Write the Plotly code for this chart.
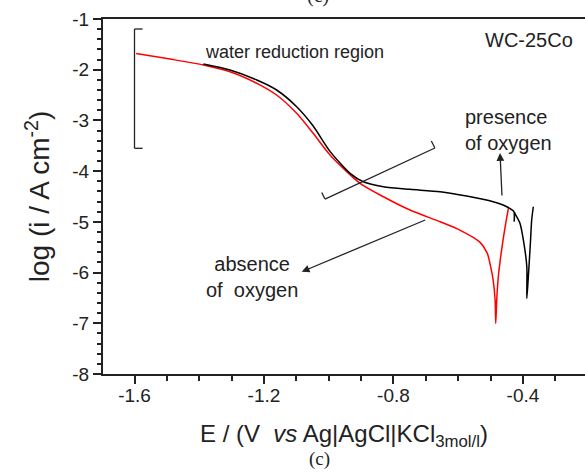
import plotly.graph_objects as go

# ---- data ----
E_absence = [-1.595, -1.490, -1.387, -1.305, -1.222, -1.161, -1.099, -1.048, -0.996,
             -0.903, -0.831, -0.749, -0.656, -0.595, -0.533, -0.510, -0.502, -0.492, -0.486,
             -0.484, -0.481, -0.476, -0.466, -0.455, -0.445]
logi_absence = [-1.68, -1.79, -1.907, -2.040, -2.268, -2.499, -2.860, -3.254, -3.680,
                -4.241, -4.505, -4.767, -4.998, -5.162, -5.40, -5.621, -5.819, -6.148, -6.542,
                -7.002, -6.542, -6.083, -5.556, -5.097, -4.734]

E_presence = [-1.387, -1.305, -1.222, -1.161, -1.099, -1.048, -0.996, -0.934, -0.893,
              -0.831, -0.749, -0.656, -0.574, -0.492, -0.450, -0.428, -0.427, -0.426, -0.425,
              -0.409, -0.397, -0.388, -0.388, -0.384, -0.377, -0.373, -0.368]
logi_presence = [-1.888, -2.006, -2.203, -2.400, -2.730, -3.110, -3.610, -4.043, -4.209,
                 -4.308, -4.359, -4.406, -4.491, -4.604, -4.702, -4.80, -4.99, -4.81, -4.832,
                 -5.030, -5.424, -5.886, -6.509, -6.15, -5.418, -4.964, -4.702]

x_ticks = [-1.6, -1.2, -0.8, -0.4]
x_tick_labels = ["-1.6", "-1.2", "-0.8", "-0.4"]
y_ticks = [-8, -7, -6, -5, -4, -3, -2, -1]
y_tick_labels = ["-8", "-7", "-6", "-5", "-4", "-3", "-2", "-1"]

FONT = "Liberation Sans, Arial, sans-serif"

fig = go.Figure()
fig.add_trace(go.Scatter(x=E_absence, y=logi_absence, mode="lines",
                         line=dict(color="#ff0000", width=1.5, shape="spline", smoothing=0.7),
                         name="absence of oxygen"))
fig.add_trace(go.Scatter(x=E_presence, y=logi_presence, mode="lines",
                         line=dict(color="#000000", width=1.5, shape="spline", smoothing=0.7),
                         name="presence of oxygen"))

# brackets
lw = dict(color="#222222", width=1.3)
shapes = [
    dict(type="line", x0=-1.6, y0=-1.197, x1=-1.6, y1=-3.55, line=lw),
    dict(type="line", x0=-1.6, y0=-1.197, x1=-1.575, y1=-1.197, line=lw),
    dict(type="line", x0=-1.6, y0=-3.55, x1=-1.575, y1=-3.55, line=lw),
    dict(type="line", x0=-1.0115, y0=-4.55, x1=-0.672, y1=-3.544, line=lw),
    dict(type="line", x0=-1.0115, y0=-4.55, x1=-1.0217, y1=-4.42, line=lw),
    dict(type="line", x0=-0.672, y0=-3.544, x1=-0.683, y1=-3.406, line=lw),
]

annotations = [
    dict(x=-1.388, y=-1.645, xref="x", yref="y", text="water reduction region",
         showarrow=False, xanchor="left", yanchor="middle",
         font=dict(family=FONT, size=18, color="#222")),
    dict(x=-0.239, y=-1.414, xref="x", yref="y", text="WC-25Co",
         showarrow=False, xanchor="right", yanchor="middle",
         font=dict(family=FONT, size=20, color="#222")),
    dict(x=-0.585, y=-3.18, xref="x", yref="y", text="presence<br>of oxygen",
         showarrow=False, xanchor="left", yanchor="middle", align="left",
         font=dict(family=FONT, size=20, color="#222")),
    dict(x=-1.237, y=-6.08, xref="x", yref="y", text="absence<br>of  oxygen",
         showarrow=False, xanchor="center", yanchor="middle", align="center",
         font=dict(family=FONT, size=20, color="#222")),
    dict(x=-0.4708, y=-3.643, ax=-0.4646, ay=-4.511, xref="x", yref="y",
         axref="x", ayref="y", text="", showarrow=True, arrowhead=2,
         arrowsize=1.2, arrowwidth=1.3, arrowcolor="#222"),
    dict(x=-1.0835, y=-5.984, ax=-0.6973, ay=-4.951, xref="x", yref="y",
         axref="x", ayref="y", text="", showarrow=True, arrowhead=2,
         arrowsize=1.2, arrowwidth=1.3, arrowcolor="#222"),
    dict(x=0.45, y=0.0, xref="paper", yref="paper", yshift=-85,
         text="(c)", showarrow=False, xanchor="center", yanchor="middle",
         font=dict(family="Liberation Serif, Times New Roman, serif", size=19, color="#222")),
    dict(x=0.447, y=1.0, xref="paper", yref="paper", yshift=10,
         text="(c)", showarrow=False, xanchor="center", yanchor="bottom",
         font=dict(family="Liberation Serif, Times New Roman, serif", size=20, color="#222")),
]

fig.update_layout(
    width=585, height=472,
    margin=dict(l=103, r=0, t=19, b=98),
    paper_bgcolor="white", plot_bgcolor="white",
    showlegend=False,
    shapes=shapes, annotations=annotations,
    font=dict(family=FONT, color="#222"),
)

fig.update_xaxes(
    range=[-1.6973, -0.2083],
    tickvals=x_ticks, ticktext=x_tick_labels,
    ticks="outside", ticklen=8, tickwidth=1.5, tickcolor="#222",
    minor=dict(dtick=0.1, tick0=-1.6, ticks="outside", ticklen=5, tickwidth=1.5, tickcolor="#222"),
    showline=True, linewidth=2, linecolor="#222", mirror=True,
    showgrid=False, zeroline=False,
    ticklabelstandoff=-5,
    tickfont=dict(family=FONT, size=19, color="#222"),
    title=dict(text="E / (V  <i>vs</i> Ag|AgCl|KCl<sub>3mol/l</sub>)",
               font=dict(family=FONT, size=24, color="#222"), standoff=20),
)
fig.update_yaxes(
    range=[-8, -1],
    tickvals=y_ticks, ticktext=y_tick_labels,
    ticks="outside", ticklen=8, tickwidth=1.5, tickcolor="#222",
    minor=dict(dtick=0.2, tick0=-8, ticks="outside", ticklen=4, tickwidth=1.5, tickcolor="#222"),
    showline=True, linewidth=2, linecolor="#222", mirror=False,
    showgrid=False, zeroline=False,
    tickfont=dict(family=FONT, size=19, color="#222"),
    title=dict(text="log (i / A cm<sup>-2</sup>)",
               font=dict(family=FONT, size=28, color="#222"), standoff=14),
)

fig.write_html("out.html")
